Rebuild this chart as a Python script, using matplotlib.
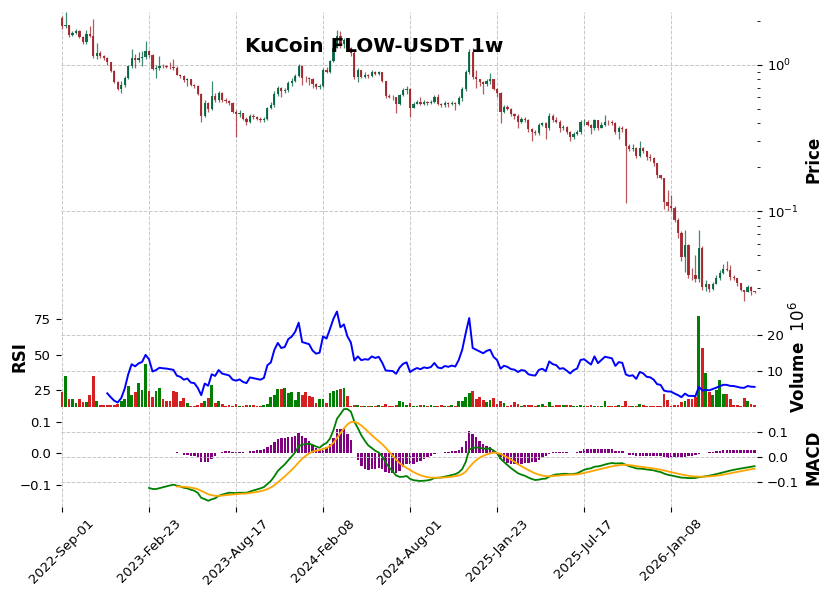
import numpy as np
import pandas as pd
import matplotlib
matplotlib.use("Agg")
import matplotlib.pyplot as plt
from matplotlib.ticker import MultipleLocator, FixedLocator, FixedFormatter

# ---------------- data (weekly) ----------------
start_date = "2022-09-01"
first_open = 2.10

close = [
    1.84, 1.86, 1.59, 1.65, 1.70, 1.56, 1.44, 1.62, 1.58, 1.15,
    1.21, 1.15, 1.12, 1.04, 0.91, 0.77, 0.69, 0.73, 0.82, 0.98,
    1.12, 1.08, 1.12, 1.14, 1.24, 1.17, 0.94, 0.96, 0.99, 0.98,
    0.975, 0.965, 0.955, 0.86, 0.84, 0.79, 0.80, 0.73, 0.72, 0.63,
    0.45, 0.55, 0.50, 0.61, 0.58, 0.64, 0.58, 0.565, 0.55, 0.48,
    0.46, 0.47, 0.43, 0.41, 0.45, 0.44, 0.43, 0.42, 0.43, 0.51,
    0.53, 0.63, 0.70, 0.66, 0.67, 0.75, 0.78, 0.84, 0.98, 0.82,
    0.81, 0.80, 0.74, 0.71, 0.72, 0.92, 0.90, 1.06, 1.31, 1.57,
    1.38, 1.47, 1.30, 1.20, 0.83, 0.92, 0.83, 0.85, 0.84, 0.90,
    0.87, 0.89, 0.78, 0.61, 0.605, 0.60, 0.54, 0.62, 0.67, 0.69,
    0.51, 0.54, 0.56, 0.54, 0.56, 0.55, 0.56, 0.60, 0.54, 0.53,
    0.55, 0.54, 0.55, 0.54, 0.59, 0.68, 0.89, 1.23, 0.83, 0.80,
    0.77, 0.74, 0.78, 0.80, 0.69, 0.64, 0.48, 0.52, 0.50, 0.46,
    0.45, 0.41, 0.43, 0.42, 0.365, 0.35, 0.345, 0.39, 0.40, 0.37,
    0.45, 0.42, 0.41, 0.37, 0.375, 0.35, 0.32, 0.34, 0.35, 0.405,
    0.41, 0.39, 0.37, 0.42, 0.37, 0.39, 0.41, 0.405, 0.40, 0.35,
    0.37, 0.365, 0.28, 0.267, 0.27, 0.24, 0.27, 0.26, 0.234, 0.23,
    0.213, 0.176, 0.17, 0.116, 0.108, 0.106, 0.087, 0.071, 0.049, 0.0587,
    0.0367, 0.0365, 0.0343, 0.0566, 0.0305, 0.032, 0.0293, 0.032, 0.0348, 0.0377,
    0.0403, 0.0400, 0.0357, 0.035, 0.0322, 0.029, 0.0283, 0.0305, 0.0285, 0.028,
]

high = [
    2.15, 2.29, 1.88, 1.70, 1.75, 1.73, 1.57, 1.72, 1.84, 2.05,
    1.42, 1.25, 1.17, 1.13, 1.05, 0.92, 0.78, 0.78, 0.84, 1.00,
    1.28, 1.18, 1.22, 1.25, 1.46, 1.27, 1.18, 1.00, 1.15, 1.02,
    1.00, 1.04, 1.10, 0.99, 0.87, 0.85, 0.81, 0.80, 0.74, 0.73,
    0.64, 0.58, 0.56, 0.78, 0.64, 0.66, 0.65, 0.59, 0.575, 0.56,
    0.49, 0.49, 0.47, 0.44, 0.46, 0.46, 0.45, 0.44, 0.44, 0.52,
    0.56, 0.66, 0.72, 0.71, 0.70, 0.78, 0.82, 0.87, 1.02, 1.00,
    0.84, 0.83, 0.82, 0.75, 0.74, 0.95, 0.97, 1.08, 1.40, 1.72,
    1.70, 1.52, 1.48, 1.32, 1.25, 0.95, 0.92, 0.90, 0.87, 0.92,
    0.91, 0.91, 0.90, 0.78, 0.63, 0.62, 0.60, 0.63, 0.70, 0.72,
    0.70, 0.56, 0.58, 0.60, 0.58, 0.57, 0.58, 0.62, 0.63, 0.55,
    0.57, 0.56, 0.57, 0.56, 0.61, 0.71, 0.92, 1.28, 1.30, 0.93,
    0.80, 0.78, 0.80, 0.88, 0.80, 0.70, 0.65, 0.53, 0.53, 0.51,
    0.47, 0.46, 0.44, 0.44, 0.43, 0.37, 0.36, 0.40, 0.41, 0.41,
    0.47, 0.46, 0.44, 0.42, 0.39, 0.38, 0.355, 0.35, 0.36, 0.42,
    0.43, 0.42, 0.395, 0.43, 0.42, 0.41, 0.455, 0.42, 0.42, 0.41,
    0.38, 0.38, 0.37, 0.29, 0.29, 0.275, 0.30, 0.275, 0.26, 0.245,
    0.235, 0.215, 0.178, 0.17, 0.139, 0.13, 0.108, 0.09, 0.073, 0.075,
    0.06, 0.041, 0.05, 0.074, 0.058, 0.034, 0.032, 0.033, 0.037, 0.040,
    0.0436, 0.046, 0.043, 0.037, 0.035, 0.0325, 0.029, 0.0315, 0.031, 0.0285,
]

low = [
    1.75, 1.80, 1.55, 1.57, 1.62, 1.52, 1.40, 1.40, 1.55, 1.12,
    1.10, 1.12, 1.08, 1.00, 0.89, 0.75, 0.67, 0.64, 0.71, 0.80,
    0.96, 0.96, 1.05, 0.99, 1.10, 1.13, 0.92, 0.81, 0.93, 0.95,
    0.95, 0.94, 0.93, 0.85, 0.82, 0.77, 0.72, 0.72, 0.70, 0.62,
    0.405, 0.44, 0.48, 0.49, 0.56, 0.56, 0.56, 0.55, 0.53, 0.47,
    0.32, 0.44, 0.42, 0.39, 0.40, 0.43, 0.42, 0.41, 0.41, 0.42,
    0.50, 0.52, 0.61, 0.60, 0.64, 0.65, 0.72, 0.76, 0.83, 0.73,
    0.77, 0.73, 0.70, 0.69, 0.69, 0.71, 0.88, 0.88, 1.04, 1.30,
    1.30, 1.30, 1.25, 1.15, 0.80, 0.77, 0.82, 0.82, 0.82, 0.83,
    0.85, 0.85, 0.76, 0.59, 0.59, 0.58, 0.47, 0.53, 0.61, 0.63,
    0.44, 0.51, 0.54, 0.53, 0.53, 0.53, 0.54, 0.55, 0.53, 0.52,
    0.52, 0.52, 0.53, 0.49, 0.53, 0.57, 0.66, 0.87, 0.80, 0.70,
    0.72, 0.63, 0.72, 0.74, 0.67, 0.60, 0.40, 0.47, 0.49, 0.45,
    0.43, 0.37, 0.40, 0.41, 0.35, 0.30, 0.33, 0.33, 0.38, 0.31,
    0.36, 0.41, 0.40, 0.35, 0.36, 0.34, 0.30, 0.31, 0.33, 0.34,
    0.39, 0.38, 0.34, 0.36, 0.36, 0.37, 0.38, 0.39, 0.39, 0.34,
    0.31, 0.35, 0.114, 0.26, 0.26, 0.23, 0.235, 0.25, 0.225, 0.22,
    0.205, 0.17, 0.165, 0.103, 0.10, 0.10, 0.085, 0.066, 0.046, 0.0387,
    0.035, 0.034, 0.033, 0.033, 0.029, 0.0287, 0.028, 0.029, 0.032, 0.034,
    0.0375, 0.039, 0.034, 0.034, 0.031, 0.0285, 0.0244, 0.028, 0.027, 0.0275,
]

volume_millions = [
    4.2, 8.6, 2.2, 2.3, 1.3, 2.2, 1.6, 1.6, 3.5, 8.6,
    1.9, 0.6, 0.6, 0.8, 0.8, 0.7, 1.0, 1.9, 2.2, 5.8,
    3.5, 4.2, 6.7, 4.9, 11.9, 4.4, 2.9, 4.6, 5.4, 2.2,
    1.9, 1.9, 4.4, 4.2, 1.9, 2.7, 1.2, 0.4, 0.4, 0.7,
    1.2, 1.9, 2.6, 6.1, 1.2, 1.9, 0.9, 0.4, 0.7, 0.5,
    0.9, 0.4, 0.5, 0.7, 0.6, 0.7, 0.4, 0.4, 0.6, 0.9,
    3.0, 3.5, 5.2, 5.2, 5.4, 4.0, 4.2, 2.1, 4.2, 3.5,
    4.2, 3.2, 3.0, 1.2, 2.2, 2.2, 1.2, 4.1, 4.4, 4.8,
    5.0, 5.4, 3.2, 0.5, 0.6, 0.8, 0.5, 0.4, 0.4, 0.5,
    0.4, 0.7, 0.5, 0.9, 0.5, 0.4, 0.6, 1.75, 1.4, 0.6,
    1.2, 0.4, 0.4, 0.6, 0.6, 0.4, 0.6, 0.4, 0.4, 0.6,
    0.4, 0.4, 0.6, 0.4, 1.75, 1.75, 3.0, 4.0, 4.5, 2.2,
    3.0, 2.0, 1.5, 2.0, 2.5, 1.0, 1.9, 1.3, 0.5, 0.8,
    1.6, 1.0, 0.4, 0.8, 0.8, 0.8, 0.4, 0.6, 1.0, 0.5,
    1.4, 0.4, 0.6, 0.7, 0.6, 0.7, 0.6, 0.4, 0.5, 0.6,
    0.4, 0.4, 0.7, 0.4, 0.4, 0.4, 1.7, 0.4, 0.4, 0.4,
    0.6, 0.4, 1.7, 0.4, 0.4, 0.5, 1.0, 0.6, 0.4, 0.4,
    0.4, 0.4, 0.4, 3.8, 2.0, 0.4, 0.6, 0.8, 1.4, 1.7,
    2.4, 2.4, 3.0, 25.1, 16.3, 9.5, 4.25, 3.4, 4.9, 7.5,
    3.6, 3.8, 2.2, 0.7, 0.7, 0.5, 2.7, 1.9, 0.9, 0.8,
]

title = "KuCoin FLOW-USDT 1w"
tick_every = 25

# ---------------- derived series ----------------
n = len(close)
dates = pd.date_range(start_date, periods=n, freq="7D")
c = pd.Series(close, dtype=float)
o = pd.Series([first_open] + close[:-1], dtype=float)
h = np.array(high, dtype=float)
l = np.array(low, dtype=float)
v = np.array(volume_millions, dtype=float)
x = np.arange(n)
up = (c >= o).values

# RSI(14), Wilder smoothing
delta = c.diff().fillna(0.0)
gain = delta.clip(lower=0).ewm(alpha=1 / 14, adjust=False, min_periods=14).mean()
loss = (-delta.clip(upper=0)).ewm(alpha=1 / 14, adjust=False, min_periods=14).mean()
rsi = 100 - 100 / (1 + gain / loss)

# MACD(12, 26, 9)
ema12 = c.ewm(span=12, adjust=False).mean()
ema26 = c.ewm(span=26, adjust=False, min_periods=26).mean()
macd = ema12 - ema26
signal = macd.ewm(span=9, adjust=False, min_periods=9).mean()
hist = macd - signal

# ---------------- figure ----------------
W, H = 832, 599
fig = plt.figure(figsize=(W / 100, H / 100), dpi=100)


def rect(x0, y0, x1, y1):
    return [x0 / W, 1 - y1 / H, (x1 - x0) / W, (y1 - y0) / H]


ax_p = fig.add_axes(rect(61, 12, 757, 307))
ax_v = fig.add_axes(rect(61, 307, 757, 407), sharex=ax_p)
ax_m = fig.add_axes(rect(61, 407, 757, 507), sharex=ax_p)
ax_r = ax_v.twinx()
ax_h = ax_m.twinx()

up_c, dn_c = "#006340", "#A02128"
grid_kw = dict(color="#c8c8c8", linestyle="--", linewidth=0.7)
tick_fs = 9.5
label_kw = dict(fontsize=12, fontweight="bold")

# price candles
cols = np.where(up, up_c, dn_c)
ax_p.vlines(x, l, h, colors=cols, linewidth=0.9, alpha=0.75, zorder=2)
body_lo = np.minimum(o.values, c.values)
body_hi = np.maximum(o.values, c.values)
ax_p.bar(x, body_hi - body_lo, bottom=body_lo, width=0.65, color=cols,
         alpha=0.9, linewidth=0, zorder=3)
ax_p.set_yscale("log")
ax_p.set_ylim(0.0222, 2.30)

# volume + RSI
vcols = np.where(up, "green", "#d42020")
ax_v.bar(x, v, width=0.8, color=vcols, linewidth=0, zorder=2)
ax_v.set_ylim(0.3 * v.min(), 1.1 * v.max())
ax_r.plot(x, rsi, color="blue", linewidth=1.4)
ax_r.margins(y=0.05)

# MACD panel
ax_h.bar(x, hist, width=0.7, color="purple", linewidth=0)
ax_h.set_ylim(-0.169, 0.146)
ax_m.plot(x, macd, color="green", linewidth=1.3, zorder=3)
ax_m.plot(x, signal, color="orange", linewidth=1.3, zorder=3)
ax_m.set_ylim(-0.198, 0.198)
ax_h.set_zorder(ax_m.get_zorder() - 1)
ax_m.patch.set_visible(False)

ax_p.set_xlim(-0.3, n - 1 + 0.7)

# ticks & grid
xt = list(range(0, n, tick_every))
for a in (ax_p, ax_v, ax_m):
    a.xaxis.set_major_locator(FixedLocator(xt))
    a.grid(True, axis="both", **grid_kw)
    a.set_axisbelow(True)
for a in (ax_p, ax_v, ax_m, ax_r, ax_h):
    for s in a.spines.values():
        s.set_visible(False)

ax_p.tick_params(axis="x", which="both", bottom=False, labelbottom=False)
ax_v.tick_params(axis="x", which="both", bottom=False, labelbottom=False)
ax_m.xaxis.set_major_formatter(
    FixedFormatter([dates[i].strftime("%Y-%b-%d") for i in xt]))
ax_m.tick_params(axis="x", labelsize=tick_fs, labelrotation=45)
for lab in ax_m.get_xticklabels():
    lab.set_ha("center")

ax_p.yaxis.tick_right()
ax_p.yaxis.set_label_position("right")
ax_p.tick_params(axis="y", which="both", labelsize=tick_fs)
ax_p.set_ylabel("Price", **label_kw)

ax_v.yaxis.tick_right()
ax_v.yaxis.set_label_position("right")
ax_v.yaxis.set_major_locator(MultipleLocator(10))
ax_v.tick_params(axis="y", labelsize=tick_fs)
ax_v.set_ylabel("Volume  $10^{6}$", **label_kw)

ax_r.yaxis.tick_left()
ax_r.yaxis.set_label_position("left")
ax_r.yaxis.set_major_locator(MultipleLocator(25))
ax_r.tick_params(axis="y", labelsize=tick_fs)
ax_r.set_ylabel("RSI", **label_kw)

ax_m.yaxis.tick_right()
ax_m.yaxis.set_label_position("right")
ax_m.yaxis.set_major_locator(MultipleLocator(0.1))
ax_m.tick_params(axis="y", labelsize=tick_fs)
ax_m.set_ylabel("MACD", **label_kw)

ax_h.yaxis.tick_left()
ax_h.yaxis.set_major_locator(MultipleLocator(0.1))
ax_h.tick_params(axis="y", labelsize=tick_fs)

fig.text(374 / W, 1 - 47 / H, title, ha="center", va="center",
         fontsize=14.4, fontweight="bold")

fig.savefig("out.png", dpi=100)
